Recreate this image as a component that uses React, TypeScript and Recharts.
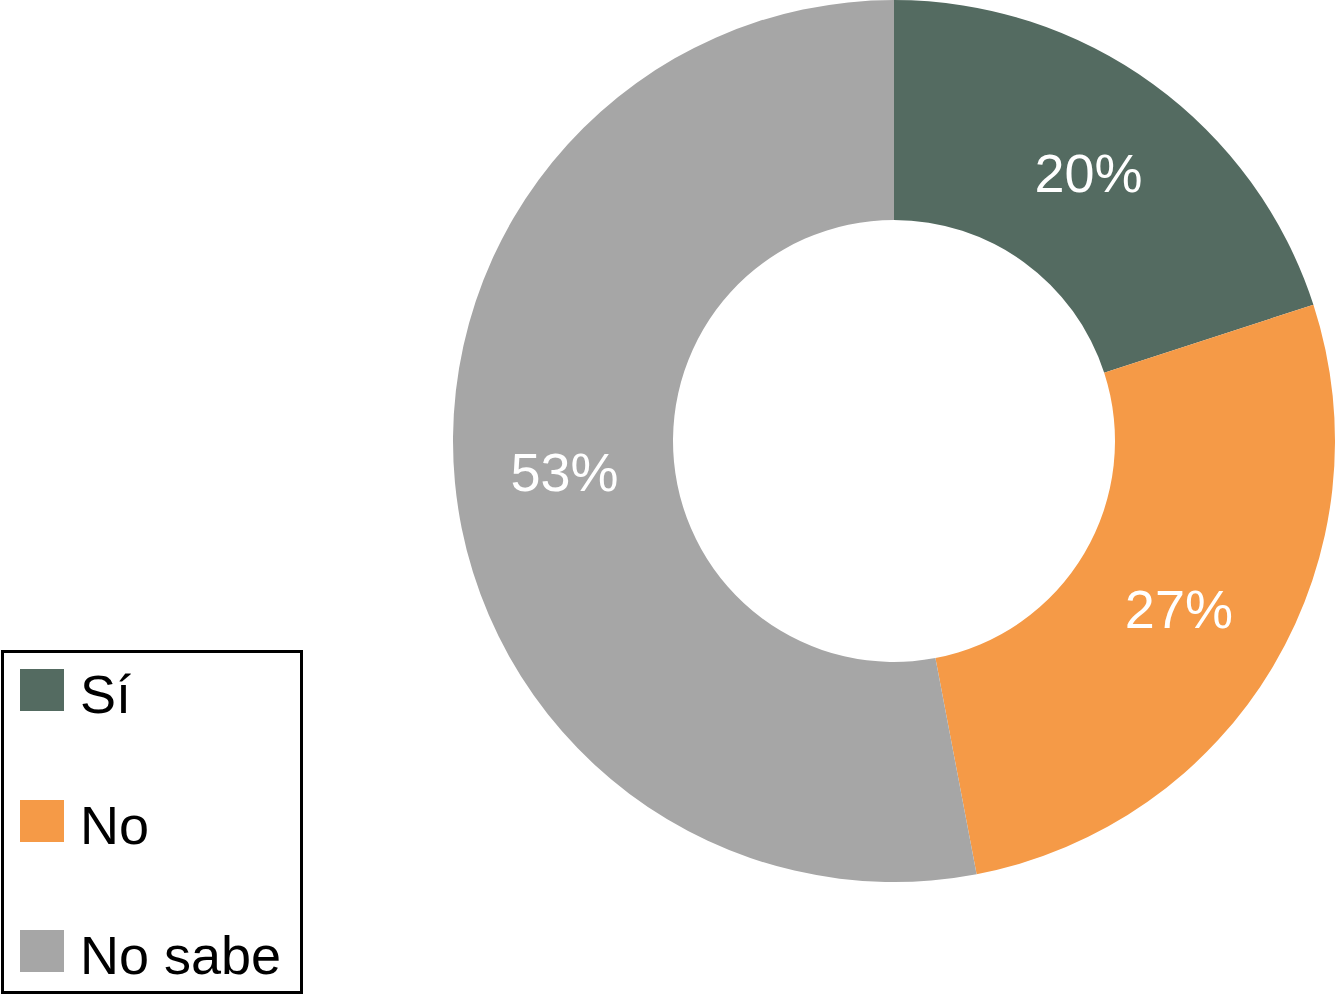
import { PieChart, Pie, Cell, Legend } from "recharts";

const categories = ["Sí", "No", "No sabe"];
const shares = [20, 27, 53];
const colors = ["#546b61", "#f59a47", "#a6a6a6"];

const data = categories.map((name, i) => ({ name, value: shares[i] }));

const FONT = "'Liberation Sans', Arial, Helvetica, sans-serif";
const RADIAN = Math.PI / 180;

function renderLabel(props: any) {
  const { cx, cy, midAngle, innerRadius, outerRadius, value } = props;
  const r = (innerRadius + outerRadius) / 2;
  const x = cx + r * Math.cos(-midAngle * RADIAN);
  const y = cy + r * Math.sin(-midAngle * RADIAN);
  return (
    <text
      x={x}
      y={y}
      fill="#ffffff"
      textAnchor="middle"
      dominantBaseline="central"
      fontFamily={FONT}
      fontSize={54}
    >
      {value}%
    </text>
  );
}

function renderLegend() {
  return (
    <div
      style={{
        position: "relative",
        boxSizing: "border-box",
        width: 302,
        height: 344,
        border: "3px solid #000",
        background: "#fff",
        fontFamily: FONT,
      }}
    >
      {data.map((d, i) => (
        <div
          key={d.name}
          style={{
            position: "absolute",
            left: 16,
            top: 14 + i * 130.5,
            display: "flex",
            alignItems: "flex-start",
          }}
        >
          <div
            style={{
              width: 44,
              height: 42,
              marginTop: 2,
              background: colors[i],
            }}
          />
          <span
            style={{
              marginLeft: 16,
              fontSize: 54,
              lineHeight: "54px",
              color: "#000",
              whiteSpace: "nowrap",
            }}
          >
            {d.name}
          </span>
        </div>
      ))}
    </div>
  );
}

export default function App() {
  return (
    <div style={{ position: "absolute", left: 0, top: 0, width: 1335, height: 995, background: "#fff" }}>
      <PieChart width={1335} height={995} margin={{ top: 0, right: 0, bottom: 0, left: 0 }}>
        <Pie
          data={data}
          dataKey="value"
          nameKey="name"
          cx={894}
          cy={441}
          innerRadius={221}
          outerRadius={441}
          startAngle={90}
          endAngle={-270}
          stroke="none"
          label={renderLabel}
          labelLine={false}
          isAnimationActive={false}
        >
          {data.map((d, i) => (
            <Cell key={d.name} fill={colors[i]} />
          ))}
        </Pie>
        <Legend
          content={renderLegend}
          wrapperStyle={{ position: "absolute", left: 1, top: 650, width: 302, height: 344 }}
        />
      </PieChart>
    </div>
  );
}
